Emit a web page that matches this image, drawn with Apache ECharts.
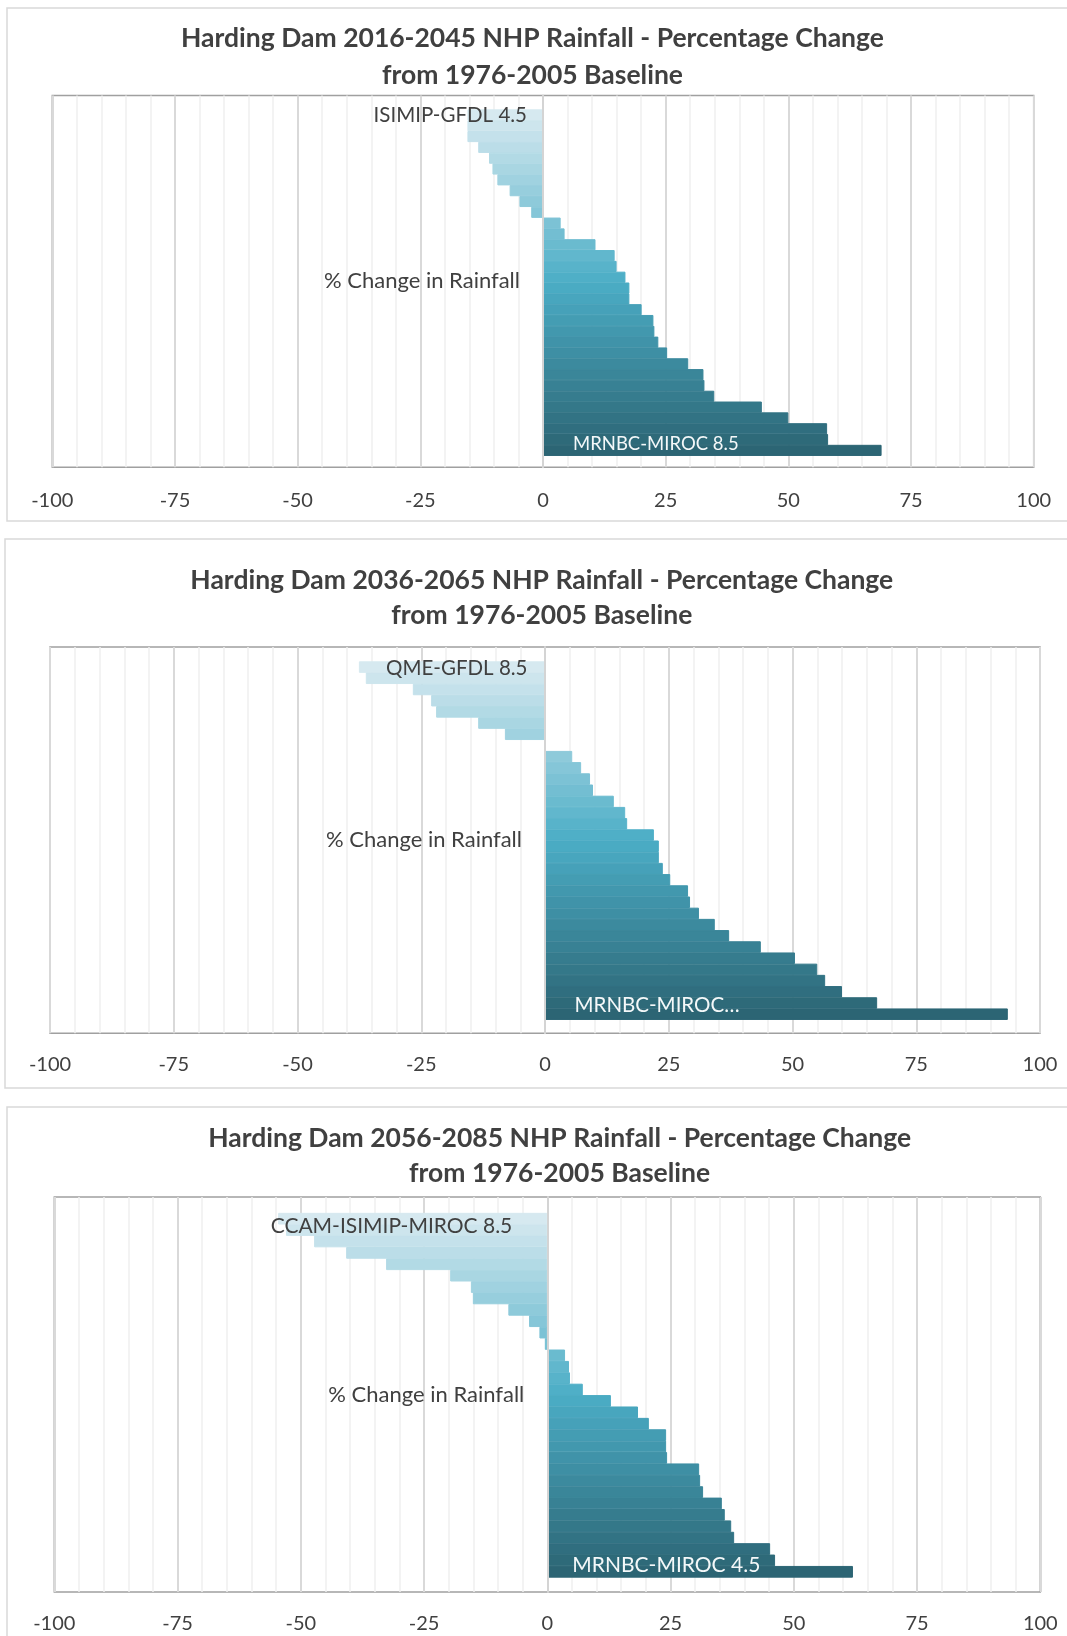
<!DOCTYPE html>
<html>
<head>
<meta charset="utf-8">
<script src="https://cdn.jsdelivr.net/npm/echarts@6/dist/echarts.min.js"></script>
<style>
html, body { margin: 0; padding: 0; background: #ffffff; }
#chart { width: 1067px; height: 1636px; }
</style>
</head>
<body>
<div id="chart"></div>
<script>
// Horizontal axis ticks (percentage change)
const xTicks = [-100, -75, -50, -25, 0, 25, 50, 75, 100];
const periods = ['2016-2045', '2036-2065', '2056-2085'];
const baseline = '1976-2005';
const categoryName = '% Change in Rainfall';

// Projections ranked from driest to wettest, % change from baseline
const change2016 = [-15.4, -15.4, -15.4, -13.2, -11.0, -10.3, -9.3, -6.8, -4.8, -2.4,
  3.6, 4.4, 10.7, 14.6, 15.0, 16.8, 17.6, 17.6, 20.1, 22.5, 22.7, 23.5, 25.3, 29.6,
  32.7, 32.9, 34.9, 44.6, 50.0, 57.9, 58.1, 69.0];
const change2036 = [-37.6, -36.2, -26.7, -23.0, -22.0, -13.5, -8.1, 0,
  5.5, 7.3, 9.1, 9.7, 13.9, 16.2, 16.6, 22.0, 23.0, 23.0, 23.8, 25.3, 28.9, 29.3,
  31.1, 34.3, 37.2, 43.6, 50.5, 55.0, 56.6, 60.0, 67.1, 93.5];
const change2056 = [-54.6, -53.0, -47.3, -40.8, -32.7, -19.7, -15.5, -15.1, -7.9, -3.7,
  -1.6, -0.5, 3.6, 4.4, 4.6, 7.2, 12.9, 18.4, 20.6, 24.1, 24.1, 24.3, 30.8, 31.0,
  31.6, 35.4, 36.0, 37.3, 37.9, 45.2, 46.2, 62.0];

// Names of the driest and wettest projections
const labels2016 = ['ISIMIP-GFDL 4.5', 'MRNBC-MIROC 8.5'];
const labels2036 = ['QME-GFDL 8.5', 'MRNBC-MIROC\u2026'];
const labels2056 = ['CCAM-ISIMIP-MIROC 8.5', 'MRNBC-MIROC 4.5'];

const FONT = 'Lato, "Open Sans", sans-serif';
const TEXT = '#404040';

// Page layout of the three stacked charts
const panels = [
  { values: change2016, names: labels2016, period: periods[0],
    frame: [7, 8, 1100, 513], plot: [52.3, 95.5, 1033.7, 467.3], pad: [14, 11.5],
    titleX: 532.5, titleY: [38.6, 75], tickGap: 23,
    first: { dist: 16, dy: 0, size: 20.5 }, last: { dist: 30, dy: -6, size: 18.5 } },
  { values: change2036, names: labels2036, period: periods[1],
    frame: [5, 539, 1100, 549], plot: [50, 647, 1040, 1033.3], pad: [14.5, 13.5],
    titleX: 541.8, titleY: [580, 615.4], tickGap: 21,
    first: { dist: 17.5, dy: 1.5, size: 20.5 }, last: { dist: 29.5, dy: -9, size: 20.5 } },
  { values: change2056, names: labels2056, period: periods[2],
    frame: [7, 1107, 1100, 600], plot: [54.3, 1197, 1040.3, 1592], pad: [16, 14.5],
    titleX: 559.6, titleY: [1138, 1173.4], tickGap: 21.5,
    first: { dist: 35, dy: 8, size: 21 }, last: { dist: 25, dy: -6.7, size: 21 } }
];

// Shades of one teal hue: light tint -> base -> dark shade
function hexToRgb(h) { return [1, 3, 5].map(i => parseInt(h.slice(i, i + 2), 16)); }
function mix(a, b, t) {
  const A = hexToRgb(a), B = hexToRgb(b);
  return 'rgb(' + A.map((v, i) => Math.round(v + (B[i] - v) * t)).join(',') + ')';
}
function shade(i, n) {
  const t = i / (n - 1);
  return t < 0.5 ? mix('#d6e9f0', '#4badc6', t / 0.5) : mix('#4badc6', '#2c6574', (t - 0.5) / 0.5);
}

const grids = [], xAxes = [], yAxes = [], series = [], graphics = [];
const xMin = xTicks[0], xMax = xTicks[xTicks.length - 1], xStep = xTicks[1] - xTicks[0];

panels.forEach((p, k) => {
  const [l, t, r, b] = p.plot;
  // frame of the chart area
  graphics.push({ type: 'rect', z: -1, silent: true,
    shape: { x: p.frame[0], y: p.frame[1], width: p.frame[2], height: p.frame[3] },
    style: { fill: 'none', stroke: '#d9d9d9', lineWidth: 1.5 } });
  // two-line title
  const lines = ['Harding Dam ' + p.period + ' NHP Rainfall - Percentage Change',
                 'from ' + baseline + ' Baseline'];
  lines.forEach((txt, j) => graphics.push({ type: 'text', silent: true,
    x: p.titleX, y: p.titleY[j],
    style: { text: txt, fontFamily: FONT, fontWeight: 'bold', fontSize: 26.5,
             fill: TEXT, align: 'center', verticalAlign: 'middle' } }));

  // plot area grid: border, gridlines, tick labels, category label at zero
  grids.push({ left: l, top: t, width: r - l, height: b - t, show: true,
    containLabel: false, outerBoundsMode: 'none',
    borderColor: '#a0a0a0', borderWidth: 1.5, backgroundColor: 'transparent' });
  // inner grid that holds the bars
  grids.push({ left: l, top: t + p.pad[0], width: r - l,
    height: b - t - p.pad[0] - p.pad[1], containLabel: false, outerBoundsMode: 'none' });

  const g0 = k * 2, g1 = k * 2 + 1;
  xAxes.push({ type: 'value', gridIndex: g0, min: xMin, max: xMax, interval: xStep,
    axisLine: { show: false }, axisTick: { show: false },
    axisLabel: { margin: p.tickGap, fontFamily: FONT, fontSize: 20, color: TEXT },
    splitLine: { show: true, lineStyle: { color: '#d9d9d9', width: 2 } },
    minorTick: { show: false, splitNumber: 5 },
    minorSplitLine: { show: true, lineStyle: { color: '#efefef', width: 1.5 } } });
  xAxes.push({ type: 'value', gridIndex: g1, min: xMin, max: xMax, show: false });

  // vertical axis crosses the horizontal one at 0
  const crossAt = (r - l) * (0 - xMin) / (xMax - xMin);
  yAxes.push({ type: 'category', gridIndex: g0, data: [categoryName], z: 10,
    position: 'left', offset: -crossAt,
    axisLine: { show: true, onZero: false, lineStyle: { color: '#d4d4d4', width: 2 } },
    axisTick: { show: false },
    axisLabel: { margin: 23, fontFamily: FONT, fontSize: 22, color: TEXT },
    splitLine: { show: false } });
  yAxes.push({ type: 'category', gridIndex: g1, inverse: true, show: false,
    data: p.values.map((_, i) => i + 1) });

  const n = p.values.length;
  series.push({ type: 'bar', xAxisIndex: g1, yAxisIndex: g1, barWidth: '103%',
    barCategoryGap: 0, silent: true,
    data: p.values.map((v, i) => {
      const c = shade(i, n);
      // an edge in the fill colour closes anti-aliasing seams between rows
      const item = { value: v, itemStyle: { color: c, borderColor: c, borderWidth: 1 } };
      if (i === 0 || i === n - 1) {
        const cfg = i === 0 ? p.first : p.last;
        const neg = v < 0;
        item.label = { show: true, formatter: i === 0 ? p.names[0] : p.names[1],
          position: neg ? 'insideRight' : 'insideLeft', distance: cfg.dist,
          offset: [0, cfg.dy], fontFamily: FONT, fontSize: cfg.size,
          color: i === 0 ? TEXT : '#f4f8f9' };
      }
      return item;
    }) });
});

const chart = echarts.init(document.getElementById('chart'));
chart.setOption({
  animation: false,
  backgroundColor: '#ffffff',
  grid: grids, xAxis: xAxes, yAxis: yAxes, series: series,
  graphic: graphics
});
</script>
</body>
</html>
